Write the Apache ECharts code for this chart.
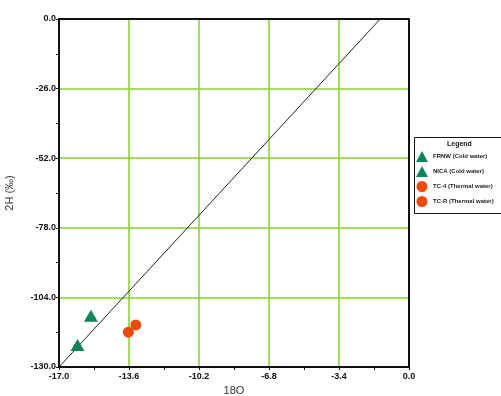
<!DOCTYPE html>
<html><head><meta charset="utf-8">
<script src="https://cdn.jsdelivr.net/npm/echarts@6/dist/echarts.min.js"></script>
<style>html,body{margin:0;padding:0;background:#fff}#c{width:501px;height:396px}</style>
</head><body><div id="c"></div>
<script>
const seriesNames = ['FRNW (Cold water)', 'NICA (Cold water)', 'TC-4 (Thermal water)', 'TC-R (Thermal water)'];
const frnw = [[-15.45, -110.9]];
const nica = [[-16.1, -121.8]];
const tc4 = [[-13.63, -117.0]];
const tcr = [[-13.27, -114.3]];
const mwl = [[-17.0, -130.0], [-1.4, 0.0]];
const xTicks = [-17.0, -13.6, -10.2, -6.8, -3.4, 0.0];
const yTicks = [-130.0, -104.0, -78.0, -52.0, -26.0, 0.0];

const green = '#12845a', orange = '#ec4a0a', gridColor = '#86d02e';
const chart = echarts.init(document.getElementById('c'));
function axisCommon(extra) {
  return Object.assign({
    axisLine: {show: true, onZero: false, lineStyle: {color: '#111', width: 2}},
    axisTick: {show: true, length: 3, lineStyle: {color: '#111'}},
    minorTick: {show: true, splitNumber: 2, length: 3, lineStyle: {color: '#111'}},
    splitLine: {show: true, showMinLine: false, showMaxLine: false, lineStyle: {color: gridColor, width: 1.5, opacity: 1, type: 'solid'}},
    axisLabel: {color: '#111', fontFamily: 'Liberation Sans', fontWeight: 'bold', fontSize: 9, formatter: v => (Math.round(v*10)/10).toFixed(1)},
    nameTextStyle: {color: '#333', fontFamily: 'Liberation Sans', fontSize: 11}
  }, extra);
}
const xa = axisCommon({type: 'value', min: xTicks[0], max: xTicks[xTicks.length-1], interval: 3.4, name: '18O', nameLocation: 'middle', nameGap: 17});
xa.axisLabel.margin = 5;
const ya = axisCommon({type: 'value', min: yTicks[0], max: yTicks[yTicks.length-1], interval: 26, name: '2H (‰)', nameLocation: 'middle', nameGap: 44});
ya.axisLabel.margin = 3;
chart.setOption({
  animation: false,
  grid: {left: 59, right: 92, top: 19, bottom: 29, show: true, borderColor: '#111', borderWidth: 2, backgroundColor: 'transparent', containLabel: false, outerBoundsMode: 'none', z: 3},
  xAxis: xa,
  yAxis: ya,
  legend: {
    data: seriesNames, orient: 'vertical', left: 416, top: 151, itemGap: 4, itemWidth: 12, itemHeight: 11,
    textStyle: {fontSize: 6, color: '#222', fontFamily: 'Liberation Sans', fontWeight: 'bold'}, padding: 0
  },
  graphic: [
    {type: 'rect', left: 414, top: 137, shape: {width: 90, height: 76}, style: {fill: '#fff', stroke: '#111', lineWidth: 1}, z: -1},
    {type: 'text', left: 447, top: 141, style: {text: 'Legend', fontSize: 7, fontWeight: 'bold', fill: '#111', fontFamily: 'Liberation Sans'}}
  ],
  series: [
    {type: 'line', data: mwl, symbol: 'none', lineStyle: {color: '#222', width: 1}, silent: true, z: 1},
    {name: seriesNames[0], type: 'scatter', data: frnw, symbol: 'triangle', symbolSize: [14, 12], itemStyle: {color: green, opacity: 1}, z: 3},
    {name: seriesNames[1], type: 'scatter', data: nica, symbol: 'triangle', symbolSize: [14, 12], itemStyle: {color: green, opacity: 1}, z: 3},
    {name: seriesNames[2], type: 'scatter', data: tc4, symbol: 'circle', symbolSize: 11, itemStyle: {color: orange, opacity: 1}, z: 3},
    {name: seriesNames[3], type: 'scatter', data: tcr, symbol: 'circle', symbolSize: 11, itemStyle: {color: orange, opacity: 1}, z: 3}
  ]
});
</script></body></html>
